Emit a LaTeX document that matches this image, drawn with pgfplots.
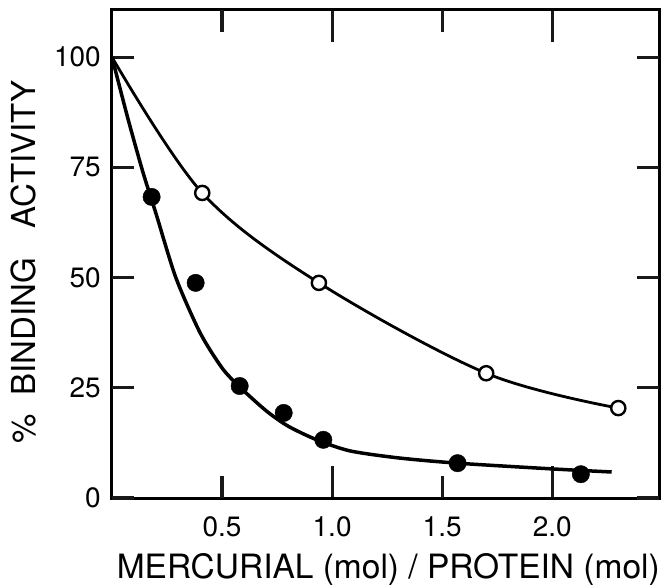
\documentclass[border=0pt]{standalone}
\usepackage{fontspec}
\setmainfont{TeX Gyre Heros}
\usepackage{pgfplots}
\pgfplotsset{compat=1.18}
\begin{document}
\begin{tikzpicture}
\begin{axis}[
  scale only axis, width=547pt, height=488pt,
  xmin=0, xmax=2.485, ymin=0, ymax=110.7,
  xtick={1,2}, xticklabels={1.0,2.0},
  extra x ticks={0.5,1.5}, extra x tick labels={0.5,1.5},
  ytick=\empty,
  extra y ticks={0,25,50,75,100}, extra y tick labels={0,25,50,75,100},
  tick align=inside,
  major tick length=32pt,
  tick style={draw=black!90, line width=3.2pt},
  extra tick style={major tick length=22pt, tick style={draw=black!90, line width=3.2pt}},
  axis line style={line width=3pt},
  /pgf/number format/assume math mode=true,
  ticklabel style={font=\fontsize{28}{28}\selectfont, inner sep=0pt},
  xticklabel style={anchor=center, yshift=-29pt},
  yticklabel style={anchor=east, xshift=-11pt},
  xlabel={MERCURIAL (mol) / PROTEIN (mol)},
  ylabel={\%\hspace{0.55em}BINDING\hspace{0.9em}ACTIVITY},
  xlabel style={font=\fontsize{33.5}{33.5}\selectfont, at={(axis description cs:0.505,0)}, anchor=base, yshift=-80pt, inner sep=0pt},
  ylabel style={font=\fontsize{33}{33}\selectfont, at={(axis description cs:-0.161,0.484)}, anchor=center, inner sep=0pt},
  clip=false,
]
% curves
\addplot[black, line width=2.8pt, smooth, tension=0.55] coordinates {
  (0,100) (0.41,69.2) (0.94,48.8) (1.70,28.3) (2.30,20.4)
};
\addplot[black, line width=3.5pt, smooth, tension=0.45] coordinates {
  (0,100) (0.07,86.5) (0.14,74) (0.2,64.5) (0.29,50) (0.4,37.5) (0.5,29.5) (0.58,25.2) (0.7,19.8)
  (0.8,16.3) (0.93,13.2) (1.08,10.7) (1.3,9.1) (1.57,7.9) (2.0,6.6) (2.27,5.9)
};
% open circles
\addplot[only marks, mark=*, mark size=7.1pt, mark options={fill=white, draw=black, line width=2.4pt}] coordinates {
  (0.41,69.2) (0.94,48.8) (1.70,28.3) (2.30,20.4)
};
% filled circles
\addplot[only marks, mark=*, mark size=8.7pt, mark options={fill=black, draw=black, line width=0.4pt}] coordinates {
  (0.18,68.3) (0.38,48.8) (0.58,25.4) (0.78,19.3) (0.96,13.2) (1.57,7.9) (2.13,5.4)
};
\end{axis}
\pgfresetboundingbox
\path ([xshift=-112pt,yshift=-86pt]current axis.south west) rectangle ([xshift=7pt,yshift=10pt]current axis.north east);
\end{tikzpicture}
\end{document}
